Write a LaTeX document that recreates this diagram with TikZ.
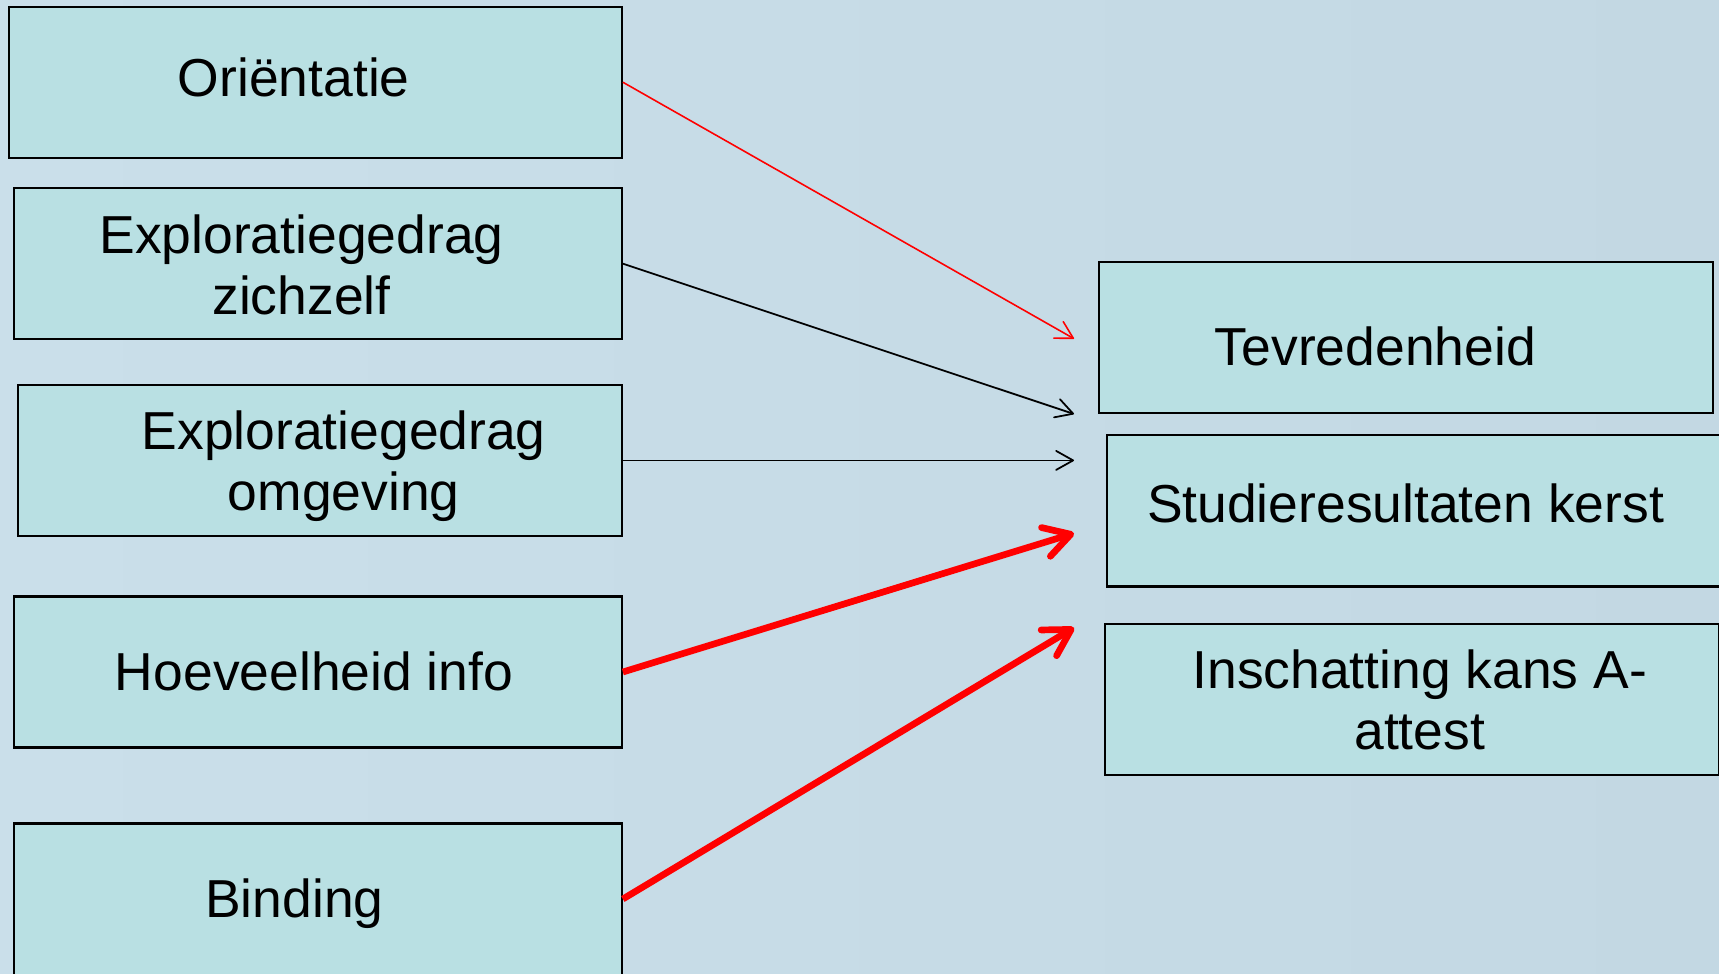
\documentclass[tikz,border=0pt]{standalone}
\usepackage{fontspec}
\setmainfont{Liberation Sans}
\usetikzlibrary{arrows.meta}

\definecolor{bgleft}{HTML}{CADFEA}
\definecolor{bgright}{HTML}{C3D8E3}
\definecolor{boxfill}{HTML}{B9E0E3}
\definecolor{arrowred}{HTML}{FF0000}

\begin{document}
\begin{tikzpicture}[x=0.01cm, y=-0.01cm,
        box/.style={draw=black, fill=boxfill, line width=0.6pt, minimum height=1.51cm, inner sep=0pt},
        txt/.style={anchor=base, align=center, font=\fontsize{15.2}{17.5}\selectfont},
        blackline/.style={draw=black, line width=0.5pt, -{Straight Barb[round, length=1.7mm, width=1.9mm]}},
        redline/.style={draw=arrowred, line width=0.45pt, -{Straight Barb[round, length=1.7mm, width=1.9mm]}},
        redbold/.style={draw=arrowred, line width=1.9pt, -{Straight Barb[round, length=2.6mm, width=3mm]}}]
        \shade[left color=bgleft, right color=bgright] (0,0) rectangle (1719,973);
        \useasboundingbox (0,0) rectangle (1719,973);

        \node[box, minimum width=6.128cm] (ori) at (315.2,82.2) {};
        \node[box, minimum width=6.073cm] (ezich) at (318,263.7) {};
        \node[box, minimum width=6.03cm] (eomg) at (320.1,460.4) {};
        \node[box, minimum width=6.073cm] (hoev) at (318,672) {};
        \node[box, minimum width=6.073cm] (bind) at (318,899) {};

        \node[box, minimum width=6.128cm] (tevr) at (1406,337.7) {};
        \node[box, minimum width=6.13cm] (stud) at (1413.6,510.9) {};
        \node[box, minimum width=6.14cm] (insch) at (1412,699.5) {};

        \node[txt] (oritxt) at (293.8,96.5) {Oriëntatie};
        \node[txt] (ezichtxt) at (301.5,314.6) {Exploratiegedrag\\zichzelf};
        \node[txt] (eomgtxt) at (343.7,510.9) {Exploratiegedrag\\omgeving};
        \node[txt] (hoevtxt) at (314.1,690.7) {Hoeveelheid info};
        \node[txt] (bindtxt) at (294.4,917.6) {Binding};
        \node[txt] (tevrtxt) at (1375.3,365.1) {Tevredenheid};
        \node[txt] (studtxt) at (1405.5,522.9) {Studieresultaten kerst};
        \node[txt] (inschtxt) at (1419.7,749.9) {Inschatting kans A-\\attest};

        \coordinate (e1) at (1074,338.7);
        \coordinate (e2) at (1074,414);
        \coordinate (e3) at (1074,460.4);
        \coordinate (e4) at (1074,533.3);
        \coordinate (e5) at (1074,627.7);

        \draw[redline] (ori.east) -- (e1);
        \draw[blackline] (ezich.east) -- (e2);
        \draw[blackline] (eomg.east) -- (e3);
        \draw[redbold] (hoev.east) -- (e4);
        \draw[redbold] (bind.east) -- (e5);
    \end{tikzpicture}
\end{document}
